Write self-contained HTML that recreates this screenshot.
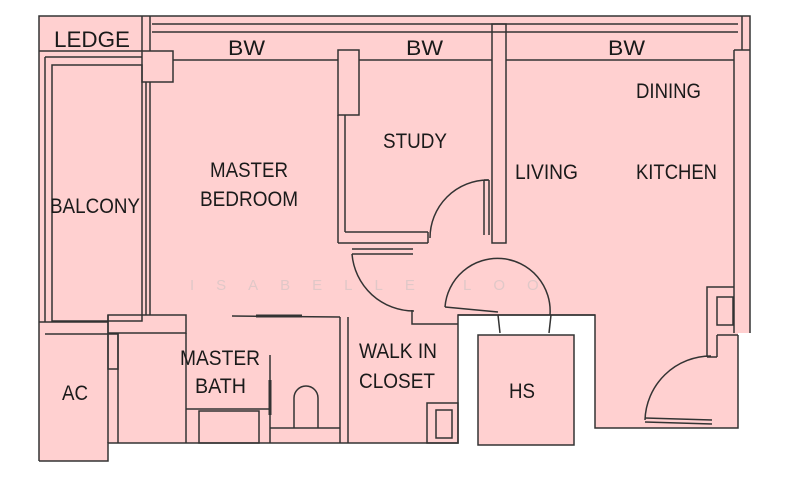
<!DOCTYPE html>
<html><head><meta charset="utf-8"><style>
html,body{margin:0;padding:0;background:#fff;}
svg{display:block;}
text{font-family:"Liberation Sans",sans-serif;font-size:21px;fill:#1a1a1a;}
</style></head><body>
<svg width="800" height="482" viewBox="0 0 800 482" xmlns="http://www.w3.org/2000/svg">
<g fill="#ffd0d0" stroke="none">
<polygon points="39,16 750,16 750,333 738,333 738,428 595,428 595,315 458,315 458,443 108,443 108,461 39,461"/>
<rect x="478" y="335" width="96" height="110"/>
</g>
<g fill="none" stroke="#333" stroke-width="1.5">
<polyline points="39,461 39,16 750,16 750,333"/>
<polyline points="738,335 738,428 595,428 595,315 458,315 458,443 108,443 108,461 39,461"/>
<rect x="478" y="335" width="96" height="110"/>
<line x1="142" y1="16" x2="142" y2="51"/>
<line x1="150" y1="16" x2="150" y2="51"/>
<line x1="152" y1="24" x2="738" y2="24"/>
<line x1="152" y1="32" x2="738" y2="32"/>
<line x1="173" y1="60" x2="338" y2="60"/>
<line x1="359" y1="60" x2="492" y2="60"/>
<line x1="506" y1="60" x2="734" y2="60"/>
<line x1="742" y1="16" x2="742" y2="50"/>
<line x1="734" y1="50" x2="734" y2="333"/>
<line x1="734" y1="50" x2="750" y2="50"/>
<line x1="39" y1="51" x2="142" y2="51"/>
<rect x="142" y="51" width="31" height="31"/>
<line x1="45" y1="57" x2="142" y2="57"/>
<line x1="45" y1="57" x2="45" y2="322"/>
<rect x="52" y="65" width="90" height="256"/>
<line x1="146" y1="82" x2="146" y2="315"/>
<line x1="150" y1="82" x2="150" y2="315"/>
<line x1="39" y1="322" x2="108" y2="322"/>
<line x1="45" y1="334" x2="108" y2="334"/>
<line x1="108" y1="315" x2="108" y2="443"/>
<rect x="108" y="315" width="78" height="18"/>
<line x1="118" y1="333" x2="118" y2="443"/>
<rect x="108" y="334" width="10" height="35"/>
<line x1="186" y1="333" x2="186" y2="443"/>
<line x1="186" y1="409" x2="270" y2="409"/>
<rect x="199" y="411" width="60" height="32"/>
<line x1="232" y1="316" x2="340" y2="317"/>
<line x1="256" y1="316" x2="302" y2="316" stroke-width="3"/>
<line x1="270" y1="355" x2="270" y2="443"/>
<line x1="270" y1="380" x2="270" y2="415" stroke-width="3"/>
<line x1="270" y1="428" x2="340" y2="428"/>
<path d="M294,428 V398 A12,12 0 0 1 318,398 V428"/>
<line x1="340" y1="317" x2="340" y2="443"/>
<line x1="348" y1="317" x2="348" y2="443"/>
<rect x="338" y="50" width="21" height="65"/>
<line x1="338" y1="115" x2="338" y2="243"/>
<line x1="345" y1="115" x2="345" y2="232"/>
<line x1="345" y1="232" x2="428" y2="232"/>
<line x1="338" y1="243" x2="428" y2="243"/>
<line x1="428" y1="232" x2="428" y2="243"/>
<path d="M430,238 A58,58 0 0 1 488,180"/>
<line x1="484" y1="180" x2="484" y2="235"/>
<line x1="489" y1="180" x2="489" y2="235"/>
<line x1="484" y1="180" x2="489" y2="180"/>
<rect x="492" y="24" width="14" height="219"/>
<line x1="352" y1="249" x2="413" y2="249"/>
<line x1="352" y1="254" x2="413" y2="254"/>
<path d="M352,254 A62,62 0 0 0 414,311"/>
<polyline points="412,310 412,324 458,324"/>
<path d="M445,307 A52,52 0 0 1 550,315"/>
<line x1="445" y1="307" x2="498" y2="312"/>
<line x1="498" y1="315" x2="500" y2="333"/>
<line x1="551" y1="315" x2="549" y2="333"/>
<line x1="458" y1="315" x2="595" y2="315"/>
<polyline points="707,357 707,287 734,287"/>
<rect x="717" y="297" width="16" height="28"/>
<line x1="717" y1="335" x2="738" y2="335"/>
<line x1="717" y1="335" x2="717" y2="357"/>
<line x1="707" y1="357" x2="717" y2="357"/>
<path d="M645,420 A66,66 0 0 1 711,356"/>
<line x1="645" y1="418" x2="712" y2="420"/>
<line x1="645" y1="422" x2="712" y2="424"/>
<rect x="427" y="403" width="31" height="40"/>
<rect x="436" y="410" width="16" height="28"/>
</g>
<text x="190" y="290" style="font-size:15px;fill:#e0c8c8;letter-spacing:22px">ISABELLE LOO</text>
<text x="54" y="47" textLength="76" lengthAdjust="spacingAndGlyphs" style="font-size:22px">LEDGE</text>
<text x="228" y="55" textLength="37" lengthAdjust="spacingAndGlyphs">BW</text>
<text x="406" y="55" textLength="37" lengthAdjust="spacingAndGlyphs">BW</text>
<text x="608" y="55" textLength="37" lengthAdjust="spacingAndGlyphs">BW</text>
<text x="636" y="98" textLength="65" lengthAdjust="spacingAndGlyphs">DINING</text>
<text x="383" y="148" textLength="64" lengthAdjust="spacingAndGlyphs">STUDY</text>
<text x="210" y="177" textLength="78" lengthAdjust="spacingAndGlyphs">MASTER</text>
<text x="200" y="206" textLength="98" lengthAdjust="spacingAndGlyphs">BEDROOM</text>
<text x="50" y="213" textLength="90" lengthAdjust="spacingAndGlyphs">BALCONY</text>
<text x="515" y="179" textLength="63" lengthAdjust="spacingAndGlyphs">LIVING</text>
<text x="636" y="179" textLength="81" lengthAdjust="spacingAndGlyphs">KITCHEN</text>
<text x="180" y="365" textLength="80" lengthAdjust="spacingAndGlyphs">MASTER</text>
<text x="195" y="393" textLength="51" lengthAdjust="spacingAndGlyphs">BATH</text>
<text x="359" y="358" textLength="78" lengthAdjust="spacingAndGlyphs">WALK IN</text>
<text x="359" y="388" textLength="76" lengthAdjust="spacingAndGlyphs">CLOSET</text>
<text x="62" y="400" textLength="26" lengthAdjust="spacingAndGlyphs">AC</text>
<text x="509" y="398" textLength="26" lengthAdjust="spacingAndGlyphs">HS</text>
</svg>
</body></html>
